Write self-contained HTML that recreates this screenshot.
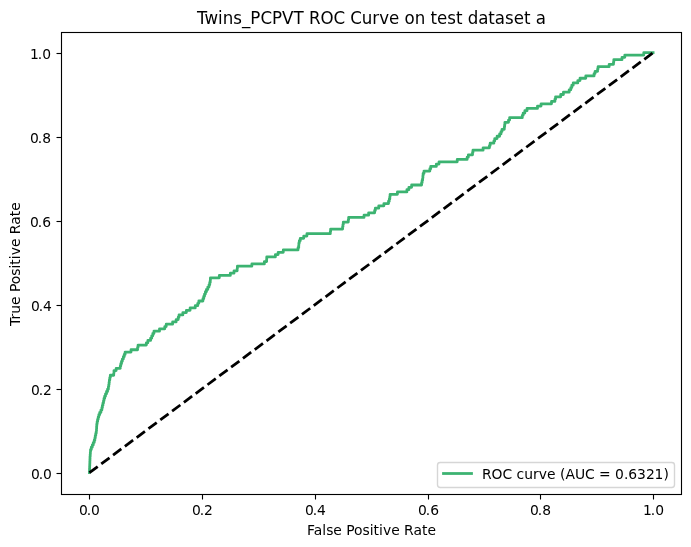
<!DOCTYPE html>
<html lang="en">
<head>
<meta charset="utf-8">
<title>Twins_PCPVT ROC Curve on test dataset a</title>
<style>
html,body{margin:0;padding:0;background:#ffffff;}
body{width:691px;height:547px;overflow:hidden;}
svg{display:block;}
text{font-family:"DejaVu Sans","Liberation Sans",sans-serif;fill:#000000;}
.t{font-size:13.889px;}
.title{font-size:16.667px;}
.ax{stroke:#000000;stroke-width:1.111;fill:none;}
</style>
</head>
<body>
<svg width="691" height="547" viewBox="0 0 691 547">
<rect x="0" y="0" width="691" height="547" fill="#ffffff"/>
<defs><clipPath id="axclip"><rect x="61.28" y="31.72" width="620" height="462"/></clipPath></defs>
<g class="ax" id="xticks">
<line x1="89.5" y1="494.5" x2="89.5" y2="499.5"/>
<line x1="202.5" y1="494.5" x2="202.5" y2="499.5"/>
<line x1="315.5" y1="494.5" x2="315.5" y2="499.5"/>
<line x1="428.5" y1="494.5" x2="428.5" y2="499.5"/>
<line x1="540.5" y1="494.5" x2="540.5" y2="499.5"/>
<line x1="653.5" y1="494.5" x2="653.5" y2="499.5"/>
</g>
<g class="ax" id="yticks">
<line x1="56.5" y1="473.5" x2="61.5" y2="473.5"/>
<line x1="56.5" y1="389.5" x2="61.5" y2="389.5"/>
<line x1="56.5" y1="305.5" x2="61.5" y2="305.5"/>
<line x1="56.5" y1="221.5" x2="61.5" y2="221.5"/>
<line x1="56.5" y1="137.5" x2="61.5" y2="137.5"/>
<line x1="56.5" y1="53.5" x2="61.5" y2="53.5"/>
</g>
<g class="t" id="xticklabels">
<text x="79 86.75 91.12" y="515">0.0</text>
<text x="192 199.75 204.12" y="515">0.2</text>
<text x="305 312.75 317.12" y="515">0.4</text>
<text x="418.06 425.81 430.19" y="515">0.6</text>
<text x="530.06 537.81 542.19" y="515">0.8</text>
<text x="642.94 650.81 655.19" y="515">1.0</text>
</g>
<g class="t" id="yticklabels">
<text x="31 38.75 43.12" y="479">0.0</text>
<text x="31 38.75 43.12" y="395">0.2</text>
<text x="31 38.75 43.12" y="311">0.4</text>
<text x="30.06 37.81 42.19" y="227">0.6</text>
<text x="30.06 37.81 42.19" y="143">0.8</text>
<text x="29.94 37.81 42.19" y="59">1.0</text>
</g>
<text class="t" x="306.94 313.69 322.31 326.19 333.31 341.81 346.19 354.06 362.56 369.69 373.56 379.06 382.94 391.19 399.69 404.06 413.44 422.06 427.56" y="535">False Positive Rate</text>
<text class="t" transform="translate(19.5,325.88) rotate(-90)" x="0 6.5 12.25 21 29.5 33.88 41.75 50.25 57.38 61.25 66.75 70.62 78.88 87.38 91.75 101.12 109.75 115.25" y="0">True Positive Rate</text>
<text class="title" transform="translate(0,23.5) scale(1,1.0800)" x="197 204.5 218.12 222.75 233.25 242 250.38 260.5 272 282.12 293.5 303.75 309 320.62 333.62 345.12 350.38 361.88 372.38 379.25 389.12 399.38 404.62 414.75 425.25 430.5 437 447.25 456 462.5 467.75 478.25 488.38 494.88 505 513.75 524 530.5 535.75" y="0">Twins_PCPVT ROC Curve on test dataset a</text>
<g clip-path="url(#axclip)">
<polyline id="roc" points="89.46,472.72 89.51,472.72 89.51,470.4 89.58,470.4 89.58,468.08 89.66,468.08 89.66,465.76 89.76,465.76 89.76,463.44 89.86,463.44 89.86,461.12 89.94,461.12 89.94,458.8 90.02,458.8 90.02,456.48 90.2,456.48 90.2,454.16 90.36,454.16 90.36,451.84 90.52,451.84 90.52,449.52 91.32,449.52 91.32,447.2 92.29,447.2 92.29,444.88 93.27,444.88 93.27,442.56 94.22,442.56 94.22,440.24 94.87,440.24 94.87,437.92 95.27,437.92 95.27,435.6 95.77,435.6 95.77,433.27 96.24,433.27 96.24,430.95 96.5,430.95 96.5,428.63 96.62,428.63 96.62,426.31 96.78,426.31 96.78,423.99 97.12,423.99 97.12,421.67 97.61,421.67 97.61,419.35 98.2,419.35 98.2,417.03 98.82,417.03 98.82,414.71 99.72,414.71 99.72,412.39 100.9,412.39 100.9,410.07 101.88,410.07 101.88,407.75 102.39,407.75 102.39,405.43 102.92,405.43 102.92,403.11 103.5,403.11 103.5,400.79 103.98,400.79 103.98,398.47 104.65,398.47 104.65,396.15 105.5,396.15 105.5,393.83 106.53,393.83 106.53,391.51 107.55,391.51 107.55,389.19 108.37,389.19 108.37,386.87 108.76,386.87 108.76,384.55 109.08,384.55 109.08,382.22 109.37,382.22 109.37,379.9 109.8,379.9 109.8,377.58 110.32,377.58 110.32,375.26 113.72,375.26 113.72,372.94 113.99,372.94 113.99,370.62 116.14,370.62 116.14,368.3 120.28,368.3 120.28,365.98 120.79,365.98 120.79,363.66 121.5,363.66 121.5,361.34 122.33,361.34 122.33,359.02 123.33,359.02 123.33,356.7 124.23,356.7 124.23,354.38 125.1,354.38 125.1,352.06 131.03,352.06 131.03,349.74 137.58,349.74 137.58,347.42 138.06,347.42 138.06,345.1 146.33,345.1 146.33,342.78 147.86,342.78 147.86,340.46 150.6,340.46 150.6,338.14 151.72,338.14 151.72,335.82 152.83,335.82 152.83,333.5 153.94,333.5 153.94,331.18 159.5,331.18 159.5,328.85 164.78,328.85 164.78,326.53 166.2,326.53 166.2,324.21 172.61,324.21 172.61,321.89 176.12,321.89 176.12,319.57 178.21,319.57 178.21,317.25 179,317.25 179,314.93 182.85,314.93 182.85,312.61 186.36,312.61 186.36,310.29 190.09,310.29 190.09,307.97 195.24,307.97 195.24,305.65 197.75,305.65 197.75,303.33 198.82,303.33 198.82,301.01 202.93,301.01 202.93,298.69 203.73,298.69 203.73,296.37 204.52,296.37 204.52,294.05 205.39,294.05 205.39,291.73 206.45,291.73 206.45,289.41 207.79,289.41 207.79,287.09 208.99,287.09 208.99,284.77 209.73,284.77 209.73,282.45 210.25,282.45 210.25,280.13 210.42,280.13 210.42,277.81 219.31,277.81 219.31,275.48 230.33,275.48 230.33,273.16 234.01,273.16 234.01,270.84 237.16,270.84 237.16,268.52 237.38,268.52 237.38,266.2 251.85,266.2 251.85,263.88 264.37,263.88 264.37,261.56 266.62,261.56 266.62,259.24 266.73,259.24 266.73,256.92 275.39,256.92 275.39,254.6 278.13,254.6 278.13,252.28 283.27,252.28 283.27,249.96 298.03,249.96 298.03,247.64 298.72,247.64 298.72,245.32 298.88,245.32 298.88,243 299.32,243 299.32,240.68 300.26,240.68 300.26,238.36 303.72,238.36 303.72,236.04 306.92,236.04 306.92,233.72 330.31,233.72 330.31,231.4 330.62,231.4 330.62,229.08 342.6,229.08 342.6,226.76 342.96,226.76 342.96,224.43 343.32,224.43 343.32,222.11 348.29,222.11 348.29,219.79 348.63,219.79 348.63,217.47 364.01,217.47 364.01,215.15 368.63,215.15 368.63,212.83 374.65,212.83 374.65,210.51 375.32,210.51 375.32,208.19 378.76,208.19 378.76,205.87 383.89,205.87 383.89,203.55 388.52,203.55 388.52,201.23 389.31,201.23 389.31,198.91 389.82,198.91 389.82,196.59 390.09,196.59 390.09,194.27 397.41,194.27 397.41,191.95 406.9,191.95 406.9,189.63 408.9,189.63 408.9,187.31 411.6,187.31 411.6,184.99 421.59,184.99 421.59,182.67 422.11,182.67 422.11,180.35 422.63,180.35 422.63,178.03 422.89,178.03 422.89,175.71 423.11,175.71 423.11,173.39 423.98,173.39 423.98,171.06 429.86,171.06 429.86,168.74 430.71,168.74 430.71,166.42 436.34,166.42 436.34,164.1 439.01,164.1 439.01,161.78 457.23,161.78 457.23,159.46 467.13,159.46 467.13,157.14 468.32,157.14 468.32,154.82 472.53,154.82 472.53,152.5 472.95,152.5 472.95,150.18 483.1,150.18 483.1,147.86 489.44,147.86 489.44,145.54 490.14,145.54 490.14,143.22 493.88,143.22 493.88,140.9 494.73,140.9 494.73,138.58 497.08,138.58 497.08,136.26 499.6,136.26 499.6,133.94 501,133.94 501,131.62 502,131.62 502,129.3 504.3,129.3 504.3,126.98 504.6,126.98 504.6,124.66 504.9,124.66 504.9,122.34 508.5,122.34 508.5,120.02 509.6,120.02 509.6,117.69 522.28,117.69 522.28,115.37 523.17,115.37 523.17,113.05 524.85,113.05 524.85,110.73 527.03,110.73 527.03,108.41 537.48,108.41 537.48,106.09 541.05,106.09 541.05,103.77 551.5,103.77 551.5,101.45 554.92,101.45 554.92,99.13 555.56,99.13 555.56,96.81 560.71,96.81 560.71,94.49 563.41,94.49 563.41,92.17 569.17,92.17 569.17,89.85 570.82,89.85 570.82,87.53 571.82,87.53 571.82,85.21 573.2,85.21 573.2,82.89 577.8,82.89 577.8,80.57 580,80.57 580,78.25 585.76,78.25 585.76,75.93 594.07,75.93 594.07,73.61 595.08,73.61 595.08,71.29 597.61,71.29 597.61,68.97 598.06,68.97 598.06,66.64 609.15,66.64 609.15,64.32 613.5,64.32 613.5,62 613.8,62 613.8,59.68 622,59.68 622,57.36 624.8,57.36 624.8,55.04 643.76,55.04 643.76,52.72 653.1,52.72" fill="none" stroke="#3cb371" stroke-width="2.778" stroke-linejoin="round" stroke-linecap="square"/>
<line id="diag" x1="89.46" y1="472.72" x2="653.10" y2="52.72" stroke="#000000" stroke-width="2.778" stroke-dasharray="10.278 4.444" stroke-linecap="butt"/>
</g>
<rect class="ax" x="61.5" y="32.5" width="620" height="462" stroke-linejoin="miter"/>
<rect id="legframe" x="437.5" y="462.5" width="237" height="25" rx="2.78" ry="2.78" fill="#ffffff" fill-opacity="0.8" stroke="#cccccc" stroke-opacity="0.8" stroke-width="1.389"/>
<line x1="443.5" y1="473.5" x2="471.5" y2="473.5" stroke="#3cb371" stroke-width="2.778" stroke-linecap="square"/>
<text class="t" x="482 491.62 502.5 512.25 516.62 524.25 533 538.75 547 555.5 559.88 565.38 574.88 585 594.75 599.12 610.75 615.12 623.88 628.25 637.12 645.88 654.62 663.5" y="479">ROC curve (AUC = 0.6321)</text>
</svg>
</body>
</html>
